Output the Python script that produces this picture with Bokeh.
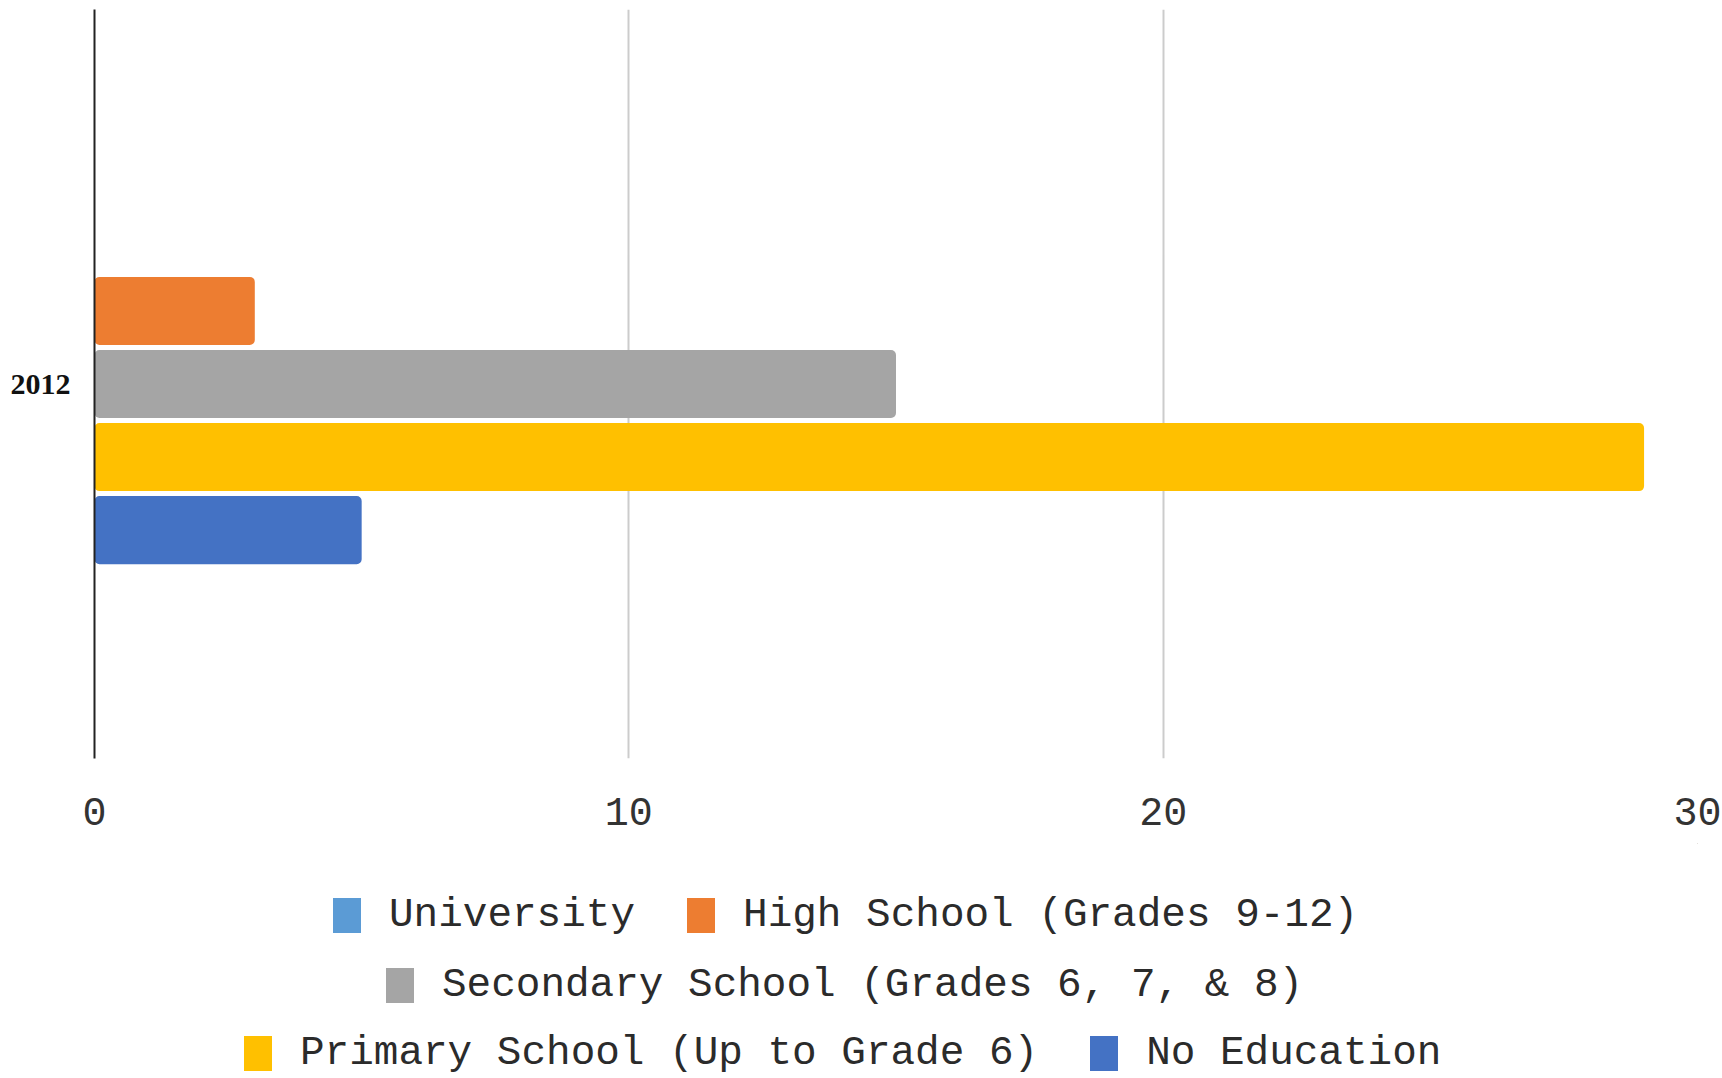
from bokeh.plotting import figure
from bokeh.layouts import column
from bokeh.models import FactorRange, Range1d, ColumnDataSource, Legend, LegendItem, FixedTicker
from bokeh.transform import dodge
from bokeh.embed import file_html
from bokeh.resources import INLINE

categories = ["2012"]
series = ["University", "High School (Grades 9-12)", "Secondary School (Grades 6, 7, & 8)",
          "Primary School (Up to Grade 6)", "No Education"]
values = [0, 3, 15, 29, 5]
colors = ["#5B9BD5", "#ED7D31", "#A5A5A5", "#FFC000", "#4472C4"]
offsets = [0.195, 0.0975, 0.0, -0.0975, -0.195]
x_ticks = [0, 10, 20, 30]

p = figure(width=1722, height=843, output_backend="svg", toolbar_location=None,
           y_range=FactorRange(*categories, range_padding=0), x_range=Range1d(0, 30),
           min_border_left=94, min_border_right=25, min_border_top=9, min_border_bottom=85)
p.outline_line_color = None
p.background_fill_color = "white"
p.border_fill_color = "white"

sources = []
for name, val, col, off in zip(series, values, colors, offsets):
    src = ColumnDataSource(dict(y=categories, x=[val]))
    sources.append(src)
    p.hbar(y=dodge("y", off, range=p.y_range), right="x", left=0, height=0.091,
           source=src, fill_color=col, line_color=None, border_radius=5)

p.xgrid.grid_line_color = "#cccccc"
p.xgrid.grid_line_width = 2
p.ygrid.grid_line_color = None
p.xaxis.ticker = FixedTicker(ticks=x_ticks)
p.xaxis.axis_line_color = None
p.xaxis.major_tick_line_color = None
p.xaxis.minor_tick_line_color = None
p.xaxis.major_label_text_font = "Liberation Mono"
p.xaxis.major_label_text_font_size = "40px"
p.xaxis.major_label_text_color = "#333333"
p.xaxis.major_label_standoff = 33

p.yaxis.axis_line_color = "#222222"
p.yaxis.axis_line_width = 2
p.yaxis.major_tick_line_color = None
p.yaxis.minor_tick_line_color = None
p.yaxis.major_label_text_font = "Liberation Serif"
p.yaxis.major_label_text_font_style = "bold"
p.yaxis.major_label_text_font_size = "30px"
p.yaxis.major_label_text_color = "#111111"
p.yaxis.major_label_standoff = 18

# legend panel: a second figure whose frame holds the legends
lp = figure(width=1722, height=235, output_backend="svg", toolbar_location=None,
            x_axis_type=None, y_axis_type=None,
            x_range=Range1d(-200, -100), y_range=FactorRange(*categories),
            min_border_left=94, min_border_right=25, min_border_top=0, min_border_bottom=0)
lp.outline_line_color = None
lp.xgrid.grid_line_color = None
lp.ygrid.grid_line_color = None
lp.border_fill_color = "white"
lp.background_fill_color = "white"

leg_renderers = []
for src, col in zip(sources, colors):
    r = lp.hbar(y=dodge("y", 10, range=lp.y_range), right="x", left=0, height=0.0001,
                source=src, fill_color=col, line_color=None)
    leg_renderers.append(r)

rows = [[0, 1], [2], [3, 4]]
row_locs = [(235, 140), (288, 70), (146, 2)]
for row, loc in zip(rows, row_locs):
    leg = Legend(items=[LegendItem(label=series[k], renderers=[leg_renderers[k]]) for k in row],
                 orientation="horizontal", location=loc,
                 label_text_font="Liberation Mono", label_text_font_size="41px",
                 label_text_color="#2b2b2b", glyph_width=35, glyph_height=44,
                 label_standoff=25, spacing=48, padding=0,
                 margin=0, border_line_color=None, background_fill_alpha=0,
                 label_height=44)
    lp.add_layout(leg, "center")

layout = column(p, lp, spacing=0)
open("out.html", "w").write(file_html(layout, INLINE))
